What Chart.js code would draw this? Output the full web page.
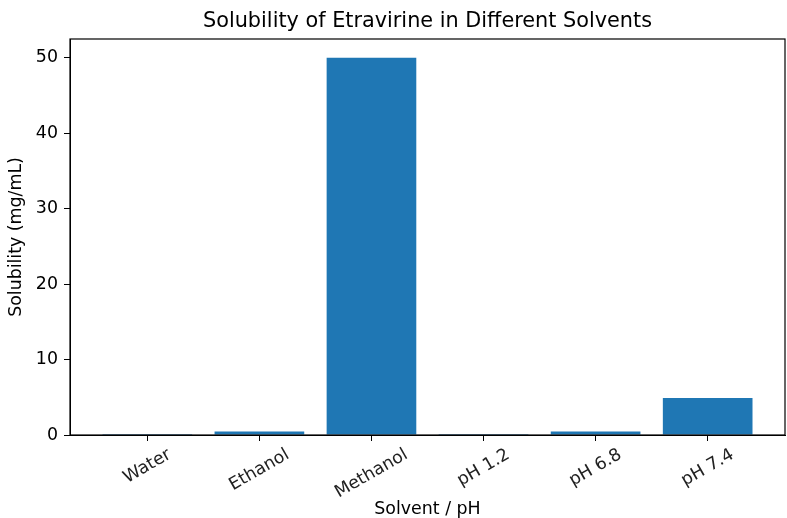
<!DOCTYPE html>
<html>
<head>
<meta charset="utf-8">
<script src="https://cdn.jsdelivr.net/npm/chart.js@4"></script>
<style>
  body { margin: 0; background: #fff; }
  #wrap { width: 787px; height: 518px; }
</style>
</head>
<body>
<div id="wrap"><canvas id="solChart" width="787" height="518"></canvas></div>
<script>
// data
const solvents = ["Water", "Ethanol", "Methanol", "pH 1.2", "pH 6.8", "pH 7.4"];
const solubility = [0.002, 0.45, 50, 0.002, 0.45, 4.9];
const yTicks = [0, 10, 20, 30, 40, 50];
const chartTitle = "Solubility of Etravirine in Different Solvents";

const FONT = "'DejaVu Sans', sans-serif";
const TICK_PX = 17.4;
const barColor = "#1f77b4";

// frame, title centred over the axes, and rotated category labels centred under each tick
const frameAndLabels = {
    id: "frameAndLabels",
    afterDraw(chart) {
        const ctx = chart.ctx;
        const area = chart.chartArea;
        const xs = chart.scales.x;

        ctx.save();
        ctx.strokeStyle = "#000";
        ctx.lineWidth = 1.2;
        ctx.strokeRect(area.left, area.top, area.right - area.left, area.bottom - area.top);

        ctx.fillStyle = "#000";
        ctx.textAlign = "center";
        ctx.textBaseline = "middle";
        ctx.font = "20.8px " + FONT;
        ctx.fillText(chartTitle, (area.left + area.right) / 2, 22);

        ctx.font = TICK_PX + "px " + FONT;
        ctx.fillStyle = "#222";
        const ang = 30 * Math.PI / 180;
        const h = TICK_PX;
        solvents.forEach((name, i) => {
            const w = ctx.measureText(name).width;
            const bh = w * Math.sin(ang) + h * Math.cos(ang);
            const x = xs.getPixelForValue(i);
            const y = area.bottom + 6 + 5 + bh / 2;
            ctx.save();
            ctx.translate(x, y);
            ctx.rotate(-ang);
            ctx.fillText(name, 0, 0);
            ctx.restore();
        });
        ctx.restore();
    }
};

const ctx = document.getElementById("solChart").getContext("2d");

new Chart(ctx, {
    type: "bar",
    data: {
        datasets: [{
            label: "Solubility (mg/mL)",
            data: solubility.map((v, i) => ({ x: i, y: v })),
            backgroundColor: barColor,
            borderWidth: 0,
            barPercentage: 0.8,
            categoryPercentage: 1.0
        }]
    },
    options: {
        responsive: false,
        animation: false,
        devicePixelRatio: 1,
        layout: { padding: { left: 0, right: 2, top: 39, bottom: 0 } },
        plugins: {
            legend: { display: false },
            tooltip: { enabled: false },
            title: { display: false }
        },
        scales: {
            x: {
                type: "linear",
                offset: false,
                min: -0.69,
                max: 5.69,
                afterBuildTicks: s => { s.ticks = solvents.map((c, i) => ({ value: i })); },
                afterFit: s => { s.height = 83; },
                ticks: { display: false },
                grid: {
                    offset: false,
                    drawOnChartArea: false,
                    drawTicks: true,
                    tickLength: 6,
                    color: "#000"
                },
                border: { display: true, color: "#000", width: 1 },
                title: {
                    display: true,
                    text: "Solvent / pH",
                    color: "#000",
                    font: { family: FONT, size: TICK_PX, lineHeight: 1.0 },
                    padding: { top: 0, bottom: 0 }
                }
            },
            y: {
                min: 0,
                max: 52.5,
                afterBuildTicks: s => { s.ticks = yTicks.map(v => ({ value: v })); },
                afterFit: s => { s.width = 70; },
                ticks: {
                    color: "#000",
                    font: { family: FONT, size: TICK_PX },
                    padding: 6
                },
                grid: {
                    drawOnChartArea: false,
                    drawTicks: true,
                    tickLength: 6,
                    color: "#000"
                },
                border: { display: true, color: "#000", width: 1 },
                title: {
                    display: true,
                    text: "Solubility (mg/mL)",
                    color: "#000",
                    font: { family: FONT, size: TICK_PX },
                    padding: { top: 6, bottom: 0 }
                }
            }
        }
    },
    plugins: [frameAndLabels]
});
</script>
</body>
</html>
